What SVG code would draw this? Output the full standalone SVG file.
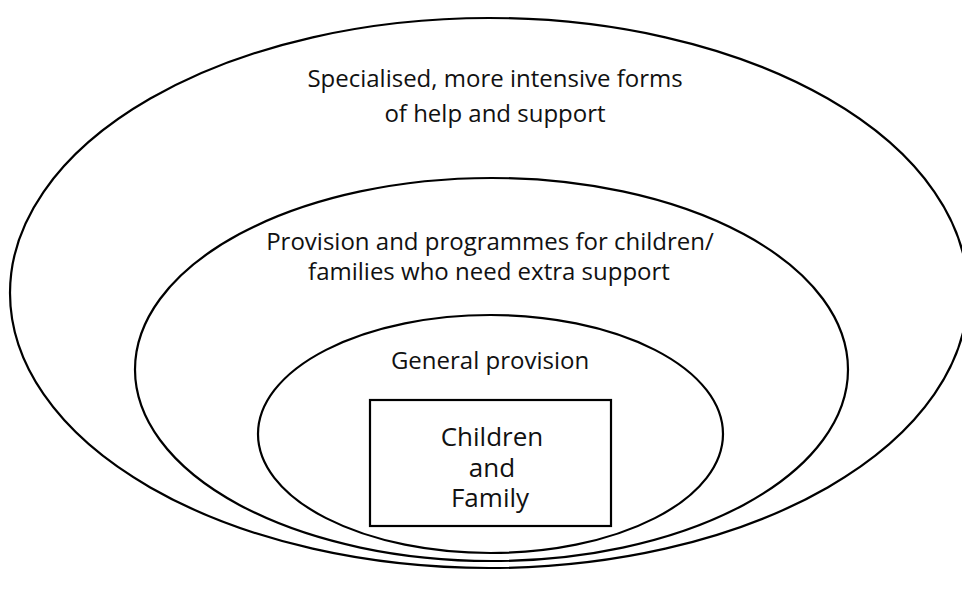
<svg xmlns="http://www.w3.org/2000/svg" width="962" height="593" viewBox="0 0 962 593">
  <style>
    .ring { fill: none; stroke: #000; stroke-width: 2.2; }
    .box { fill: #fff; stroke: #000; stroke-width: 2.2; }
    .label { font-family: "Open Sans", "Noto Sans", "DejaVu Sans", sans-serif; font-size: 24px; fill: #111; text-anchor: middle; }
    .core { font-size: 26px; }
  </style>
  <rect width="962" height="593" fill="#fff"/>

  <!-- Outer ring: specialised services -->
  <g id="specialised">
    <ellipse class="ring" cx="489" cy="293" rx="479" ry="275"/>
    <text class="label" x="495" y="87">Specialised, more intensive forms</text>
    <text class="label" x="495" y="122">of help and support</text>
  </g>

  <!-- Middle ring: targeted provision -->
  <g id="targeted">
    <ellipse class="ring" cx="491.5" cy="369.5" rx="356.5" ry="191.5"/>
    <text class="label" x="490" y="250">Provision and programmes for children/</text>
    <text class="label" x="489" y="280">families who need extra support</text>
  </g>

  <!-- Inner ring: universal provision -->
  <g id="general">
    <ellipse class="ring" cx="490.5" cy="434" rx="232.5" ry="119"/>
    <text class="label" x="490" y="369">General provision</text>
  </g>

  <!-- Centre: child and family -->
  <g id="family">
    <rect class="box" x="370" y="400" width="241" height="126"/>
    <text class="label core" x="492" y="446">Children</text>
    <text class="label core" x="492" y="477">and</text>
    <text class="label core" x="490" y="507">Family</text>
  </g>

  <g id="connectors"/>
</svg>
